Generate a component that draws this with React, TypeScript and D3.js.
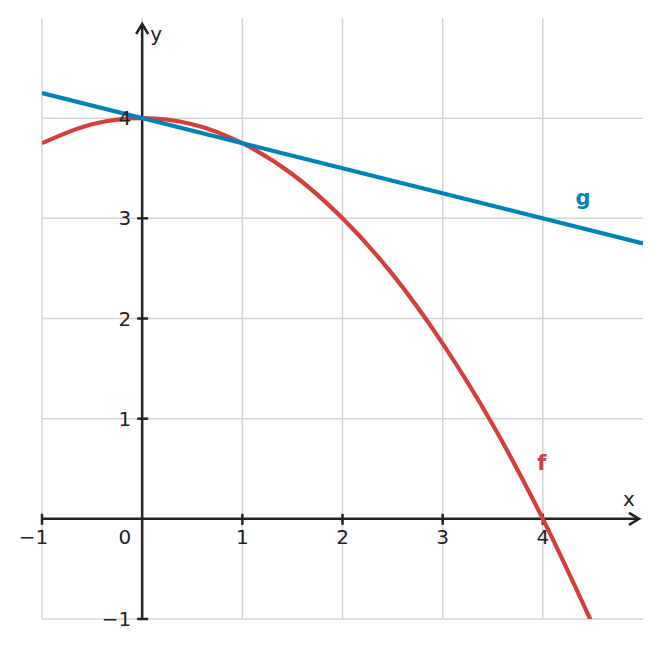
import * as d3 from 'd3';
import * as React from 'react';

const { useRef, useEffect } = React;

const width = 661;
const height = 648;

// plot area in pixels (domain -1..5 on both axes)
const area = { left: 42, right: 643, top: 18, bottom: 619 };

const xTicks = [-1, 1, 2, 3, 4];
const yTicks = [-1, 1, 2, 3, 4];
const xGrid = [-1, 0, 1, 2, 3, 4];
const yGrid = [-1, 0, 1, 2, 3, 4];

// f: values
const fX = [-1, -0.5, 0, 0.5, 1, 1.5, 2, 2.5, 3, 3.5, 4, 4.5];
const fY = [3.75, 3.94, 4, 3.94, 3.75, 3.44, 3, 2.44, 1.75, 0.94, 0, -1.06];

// g: straight blue line
const gX = [-1, 5];
const gY = [4.25, 2.75];

const red = '#d53f3a';
const blue = '#0083b9';
const ink = '#222';
const font = '"DejaVu Sans", sans-serif';

const fmt = (d: number) => (d < 0 ? '\u2212' + Math.abs(d) : String(d));

export default () => {
  const rootRef = useRef<SVGSVGElement>(null);

  useEffect(() => {
    const svg = d3.select(rootRef.current);
    svg.selectAll('*').remove();

    const x = d3.scaleLinear().domain([-1, 5]).range([area.left, area.right]);
    const y = d3.scaleLinear().domain([-1, 5]).range([area.bottom, area.top]);

    svg
      .append('defs')
      .append('clipPath')
      .attr('id', 'plot-clip')
      .append('rect')
      .attr('x', area.left)
      .attr('y', area.top)
      .attr('width', area.right - area.left)
      .attr('height', area.bottom - area.top);

    // grid
    const grid = svg.append('g').attr('stroke', '#d4d4d4').attr('stroke-width', 1.5);
    grid
      .selectAll('line.v')
      .data(xGrid)
      .join('line')
      .attr('class', 'v')
      .attr('x1', d => x(d))
      .attr('x2', d => x(d))
      .attr('y1', y(-1))
      .attr('y2', y(5));
    grid
      .selectAll('line.h')
      .data(yGrid)
      .join('line')
      .attr('class', 'h')
      .attr('x1', x(-1))
      .attr('x2', x(5))
      .attr('y1', d => y(d))
      .attr('y2', d => y(d));

    // axes
    const axes = svg
      .append('g')
      .attr('stroke', ink)
      .attr('stroke-width', 2.5)
      .attr('fill', 'none');
    const ax = x(4.96);
    const ay = y(4.94);
    axes
      .append('line')
      .attr('x1', x(-1))
      .attr('x2', ax - 1)
      .attr('y1', y(0))
      .attr('y2', y(0));
    axes
      .append('line')
      .attr('x1', x(0))
      .attr('x2', x(0))
      .attr('y1', y(-1))
      .attr('y2', ay + 1);
    // arrowheads
    axes
      .append('path')
      .attr('d', `M${ax - 10},${y(0) - 6}L${ax},${y(0)}L${ax - 10},${y(0) + 6}`);
    axes
      .append('path')
      .attr('d', `M${x(0) - 6},${ay + 10}L${x(0)},${ay}L${x(0) + 6},${ay + 10}`);

    axes
      .selectAll('line.xt')
      .data(xTicks)
      .join('line')
      .attr('class', 'xt')
      .attr('x1', d => x(d))
      .attr('x2', d => x(d))
      .attr('y1', y(0) - 5)
      .attr('y2', y(0) + 6);
    axes
      .selectAll('line.yt')
      .data(yTicks)
      .join('line')
      .attr('class', 'yt')
      .attr('x1', x(0) - 5)
      .attr('x2', x(0) + 6)
      .attr('y1', d => y(d))
      .attr('y2', d => y(d));

    // curves
    const line = d3
      .line<number>()
      .x(d => x(d))
      .curve(d3.curveMonotoneX);

    svg
      .append('path')
      .attr('clip-path', 'url(#plot-clip)')
      .attr('fill', 'none')
      .attr('stroke', red)
      .attr('stroke-width', 4.2)
      .attr('d', line.y((d, i) => y(fY[i]))(fX));

    svg
      .append('path')
      .attr('clip-path', 'url(#plot-clip)')
      .attr('fill', 'none')
      .attr('stroke', blue)
      .attr('stroke-width', 4.2)
      .attr('d', d3.line<number>().x(d => x(d)).y((d, i) => y(gY[i]))(gX));

    // tick labels
    const labels = svg
      .append('g')
      .attr('fill', ink)
      .style('font-family', font)
      .style('font-size', '20px');
    labels
      .selectAll('text.xl')
      .data(xTicks)
      .join('text')
      .attr('class', 'xl')
      .attr('x', d => x(d))
      .attr('y', y(0) + 25)
      .attr('dx', d => (d < 0 ? '-0.42em' : null))
      .attr('text-anchor', 'middle')
      .text(fmt);
    labels
      .append('text')
      .attr('x', x(0) - 11)
      .attr('y', y(0) + 25)
      .attr('text-anchor', 'end')
      .text('0');
    labels
      .selectAll('text.yl')
      .data(yTicks)
      .join('text')
      .attr('class', 'yl')
      .attr('x', x(0) - 11)
      .attr('y', d => y(d) + 7)
      .attr('text-anchor', 'end')
      .text(fmt);

    labels
      .append('text')
      .attr('x', x(4.86))
      .attr('y', y(0) - 13)
      .attr('text-anchor', 'middle')
      .text('x');
    labels
      .append('text')
      .attr('x', x(0) + 8)
      .attr('y', y(4.77))
      .attr('text-anchor', 'start')
      .text('y');

    // function names
    svg
      .append('text')
      .attr('x', x(3.99))
      .attr('y', y(0.49))
      .attr('text-anchor', 'middle')
      .attr('fill', red)
      .style('font-family', font)
      .style('font-size', '21px')
      .style('font-weight', 'bold')
      .text('f');
    svg
      .append('text')
      .attr('x', x(4.4))
      .attr('y', y(3.13))
      .attr('text-anchor', 'middle')
      .attr('fill', blue)
      .style('font-family', font)
      .style('font-size', '21px')
      .style('font-weight', 'bold')
      .text('g');
  }, []);

  return (
    <svg
      ref={rootRef}
      width={width}
      height={height}
      style={{ position: 'absolute', left: 0, top: 0, background: '#fff' }}
    />
  );
};
